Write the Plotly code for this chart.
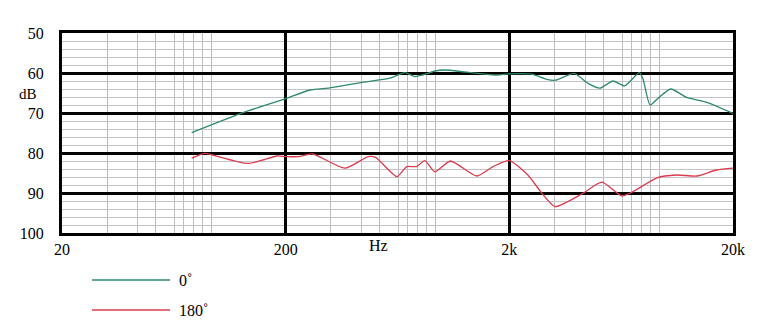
import math
import plotly.graph_objects as go

# ---- data ----
freq_0 = [76, 129, 200, 257, 315, 434, 586, 682, 758, 820, 930, 1030, 1290, 1760, 2000,
          2520, 2940, 3220, 3900, 4500, 5080, 5800, 6560, 7620, 7900, 8520, 9260, 10540,
          12400, 15400, 20000]
db_0 = [74.9, 69.9, 66.4, 64.25, 63.7, 62.4, 61.3, 59.9, 60.9, 60.5, 59.5, 59.25, 59.8, 60.5, 60.2,
        60.3, 61.6, 61.8, 60.1, 62.6, 63.8, 62.0, 63.2, 59.9, 61.3, 68.0, 66.3, 64.0,
        66.1, 67.4, 70.1]

freq_180 = [76, 87, 94, 136, 183, 200, 228, 264, 368, 468, 505, 628, 696, 770, 838, 930,
            1090, 1430, 1690, 2000, 2420, 2800, 3200, 4260, 5190, 6360, 7120, 9140, 11200,
            13800, 16900, 20000]
db_180 = [81.3, 80.1, 80.5, 82.6, 80.75, 80.9, 80.9, 80.25, 83.8, 80.9, 81.1, 85.9, 83.4, 83.4,
          81.9, 84.7, 82.0, 85.75, 83.4, 81.9, 85.5, 90.1, 93.4, 90.1, 87.3, 90.75, 89.7, 86.2,
          85.5, 85.75, 84.25, 83.8]

series_names = ["0˚", "180˚"]
series_colors = ["#2f8a68", "#da3c4e"]

x_major_ticks = [20, 200, 2000, 20000]
x_tick_labels = ["20", "200", "2k", "20k"]
x_minor_mult = [1.59, 2.18, 2.63, 3.2, 3.51, 3.89, 4.26, 4.67]
y_ticks = [50, 60, 70, 80, 90, 100]

minor_x = [base * m for base in x_major_ticks[:-1] for m in x_minor_mult]

FONT = "Times New Roman, Liberation Serif, DejaVu Serif, serif"

fig = go.Figure()
fig.add_trace(go.Scatter(x=freq_0, y=db_0, mode="lines", name=series_names[0],
                         line=dict(color=series_colors[0], width=1.3, shape="spline", smoothing=0.6)))
fig.add_trace(go.Scatter(x=freq_180, y=db_180, mode="lines", name=series_names[1],
                         line=dict(color=series_colors[1], width=1.3, shape="spline", smoothing=0.6)))

fig.update_layout(
    width=766, height=322,
    margin=dict(l=62, r=33, t=33, b=89),
    paper_bgcolor="white", plot_bgcolor="white",
    showlegend=False,
    font=dict(family=FONT, size=16, color="black"),
    xaxis=dict(
        type="log", range=[math.log10(20), math.log10(20000)],
        tickmode="array", tickvals=x_major_ticks, ticktext=x_tick_labels,
        showgrid=True, gridcolor="black", gridwidth=2.5,
        showline=True, linecolor="black", linewidth=3, mirror=True,
        ticks="", zeroline=False,
        minor=dict(tickmode="array", tickvals=minor_x, showgrid=True,
                   gridcolor="#bdbdbd", gridwidth=1, ticks=""),
        tickfont=dict(family=FONT, size=16),
    ),
    yaxis=dict(
        range=[100, 50], tickmode="array", tickvals=y_ticks,
        showgrid=True, gridcolor="black", gridwidth=2.5,
        showline=True, linecolor="black", linewidth=3, mirror=True,
        ticks="", zeroline=False, ticklabelstandoff=12,
        minor=dict(dtick=2, showgrid=True, gridcolor="#c4c4c4", gridwidth=1, ticks=""),
        tickfont=dict(family=FONT, size=16),
    ),
)

# axis unit labels
fig.add_annotation(text="Hz", xref="x", yref="paper", x=math.log10(520), y=0,
                   yshift=-12, yanchor="middle", showarrow=False,
                   font=dict(family=FONT, size=16))
fig.add_annotation(text="dB", xref="paper", yref="y", x=0, y=65.2, xshift=-34,
                   xanchor="center", showarrow=False, font=dict(family=FONT, size=15))

# legend drawn below plot
leg_y = [280, 310]
for i, (nm, col) in enumerate(zip(series_names, series_colors)):
    ypix = leg_y[i]
    ypaper = (322 - 89 - ypix) / (322 - 33 - 89)
    x0 = (92 - 62) / (766 - 62 - 33)
    x1 = (170 - 62) / (766 - 62 - 33)
    fig.add_shape(type="line", xref="paper", yref="paper", x0=x0, x1=x1, y0=ypaper, y1=ypaper,
                  line=dict(color=col, width=1.3))
    fig.add_annotation(text=nm, xref="paper", yref="paper", x=(177 - 62) / (766 - 62 - 33),
                       y=ypaper, xanchor="left", yanchor="middle", showarrow=False,
                       font=dict(family=FONT, size=16))

fig.write_html("out.html")
